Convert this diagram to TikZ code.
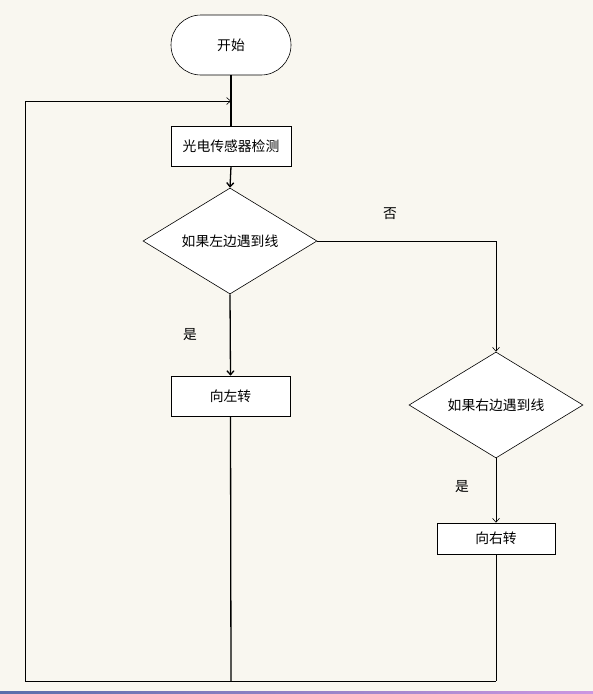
\documentclass[tikz,border=0pt]{standalone}
\usepackage{fontspec}
\newfontfamily\cjk{Noto Sans CJK SC}
\usetikzlibrary{shapes.geometric,arrows.meta}
\definecolor{bg}{HTML}{F9F7F0}
\begin{document}
\begin{tikzpicture}[x=1pt,y=-1pt,
  font=\cjk\fontsize{13.8}{16}\selectfont,
  box/.style={draw=black,fill=white,line width=0.6pt,minimum width=119pt,minimum height=40pt,inner sep=0pt},
  term/.style={draw=black,fill=white,line width=0.6pt,rounded corners=30pt,minimum width=120pt,minimum height=60pt,inner sep=0pt},
  dec/.style={draw=black,fill=white,line width=0.6pt,diamond,aspect=1.64,minimum width=174pt,minimum height=106pt,inner sep=0pt},
  lbl/.style={inner sep=0pt},
  flow/.style={line width=0.6pt},
  main/.style={line width=1.3pt},
  arr/.style={-{Straight Barb[length=4pt,width=7pt]}}]
\useasboundingbox (0,0) rectangle (593,694);
\fill[bg] (0,0) rectangle (593,694);
\shade[left color={rgb,255:red,90;green,110;blue,170},right color={rgb,255:red,205;green,150;blue,225}] (0,691.5) rectangle (593,694);
\node[term] (start) at (231,45) {开始};
\node[box,minimum width=120pt] (sense) at (231,146) {光电传感器检测};
\node[dec] (d1) at (230,241) {如果左边遇到线};
\node[box] (left) at (230.5,396) {向左转};
\node[dec] (d2) at (496,405) {如果右边遇到线};
\node[box,minimum width=118pt,minimum height=31pt] (right) at (496,538.5) {向右转};
\node[lbl] (no) at (390,214) {否};
\node[lbl] (yes1) at (190,335) {是};
\node[lbl] (yes2) at (462,487) {是};
\coordinate (join) at (231,101);
\coordinate (bl) at (231,681);
\coordinate (cl) at (25,681);
\coordinate (tl) at (25,101);
\coordinate (br) at (496,681);
\coordinate (tr) at (496,241);
\draw[main] (start.south) -- (sense.north);
\draw[flow,arr] (tl) -- (join);
\draw[main,arr] (sense.south) -- (d1.north);
\draw[main,arr] (d1.south) -- (left.north);
\draw[main] (left.south) -- (bl);
\draw[flow,arr] (d1.east) -- (tr) -- (d2.north);
\draw[flow,arr] (d2.south) -- (right.north);
\draw[flow] (right.south) -- (br);
\draw[line width=0.9pt] (br) -- (cl) -- (tl);
\end{tikzpicture}
\end{document}
